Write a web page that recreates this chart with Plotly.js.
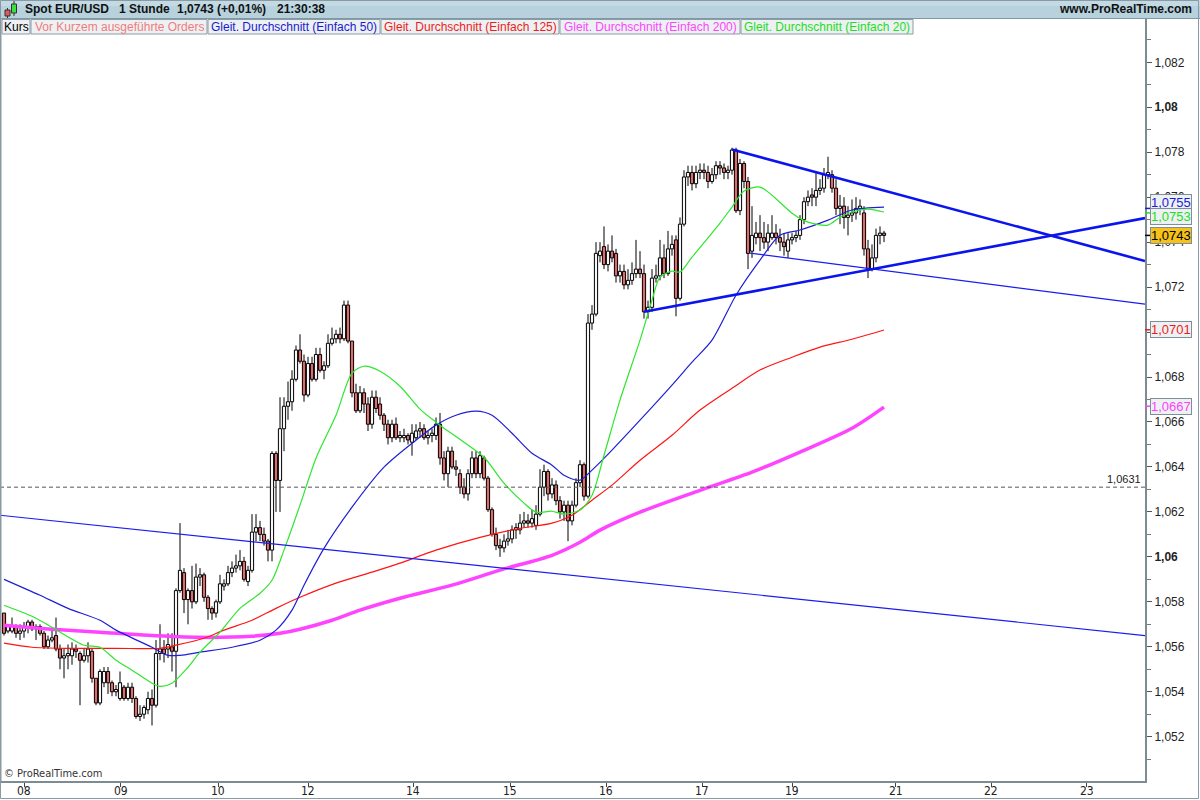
<!DOCTYPE html>
<html><head><meta charset="utf-8">
<script src="https://cdn.plot.ly/plotly-3.0.1.min.js"></script>
<style>html,body{margin:0;padding:0;background:#fff;}#chart{width:1200px;height:800px;}</style>
</head><body><div id="chart"></div>
<script>
// ---- Hourly candles (EUR/USD spot, 1 Stunde) ----
const open = [1.0575,1.0567,1.0567,1.0569,1.0566,1.0567,1.0569,1.0571,1.0568,1.0569,
1.0566,1.0560,1.0563,1.0565,1.0559,1.0555,1.0556,1.0556,1.0559,1.0557,
1.0554,1.0556,1.0558,1.0546,1.0535,1.0544,1.0549,1.0544,1.0540,1.0537,
1.0542,1.0537,1.0542,1.0537,1.0529,1.0530,1.0532,1.0537,1.0534,1.0557,
1.0559,1.0559,1.0560,1.0558,1.0585,1.0593,1.0581,1.0585,1.0580,1.0591,
1.0592,1.0582,1.0577,1.0575,1.0580,1.0587,1.0588,1.0593,1.0595,1.0596,
1.0598,1.0589,1.0594,1.0611,1.0613,1.0610,1.0607,1.0603,1.0646,1.0634,
1.0657,1.0667,1.0669,1.0679,1.0692,1.0687,1.0672,1.0686,1.0679,1.0690,
1.0683,1.0685,1.0695,1.0697,1.0699,1.0697,1.0712,1.0696,1.0673,1.0665,
1.0673,1.0668,1.0659,1.0671,1.0668,1.0663,1.0659,1.0653,1.0659,1.0653,
1.0653,1.0654,1.0651,1.0653,1.0656,1.0657,1.0653,1.0654,1.0654,1.0659,
1.0644,1.0637,1.0647,1.0640,1.0637,1.0631,1.0628,1.0637,1.0644,1.0637,
1.0644,1.0635,1.0621,1.0610,1.0605,1.0604,1.0607,1.0608,1.0612,1.0612,
1.0615,1.0616,1.0615,1.0614,1.0619,1.0631,1.0638,1.0628,1.0632,1.0625,
1.0620,1.0623,1.0616,1.0623,1.0633,1.0641,1.0627,1.0704,1.0708,1.0734,
1.0738,1.0730,1.0736,1.0735,1.0725,1.0727,1.0721,1.0723,1.0726,1.0728,
1.0726,1.0709,1.0711,1.0724,1.0725,1.0733,1.0726,1.0737,1.0741,1.0715,
1.0748,1.0769,1.0771,1.0766,1.0771,1.0772,1.0771,1.0767,1.0770,1.0774,
1.0773,1.0771,1.0772,1.0781,1.0754,1.0775,1.0767,1.0736,1.0742,1.0744,
1.0742,1.0740,1.0742,1.0744,1.0742,1.0740,1.0736,1.0741,1.0742,1.0743,
1.0750,1.0758,1.0761,1.0760,1.0763,1.0764,1.0770,1.0770,1.0764,1.0755,
1.0756,1.0751,1.0752,1.0753,1.0755,1.0753,1.0737,1.0728,1.0733,1.0743,
1.0744];
const high = [1.0575,1.0570,1.0573,1.0570,1.0570,1.0571,1.0572,1.0572,1.0570,1.0570,
1.0567,1.0565,1.0568,1.0573,1.0561,1.0559,1.0561,1.0562,1.0561,1.0558,
1.0559,1.0562,1.0559,1.0546,1.0550,1.0551,1.0551,1.0545,1.0543,1.0549,
1.0543,1.0544,1.0544,1.0538,1.0534,1.0534,1.0540,1.0541,1.0563,1.0570,
1.0563,1.0566,1.0566,1.0586,1.0615,1.0595,1.0586,1.0596,1.0597,1.0595,
1.0593,1.0583,1.0578,1.0581,1.0592,1.0590,1.0596,1.0598,1.0601,1.0603,
1.0600,1.0596,1.0619,1.0619,1.0616,1.0613,1.0608,1.0647,1.0647,1.0671,
1.0671,1.0678,1.0683,1.0694,1.0699,1.0690,1.0689,1.0689,1.0693,1.0693,
1.0687,1.0699,1.0702,1.0701,1.0702,1.0714,1.0714,1.0696,1.0677,1.0676,
1.0675,1.0671,1.0674,1.0674,1.0671,1.0664,1.0661,1.0661,1.0662,1.0656,
1.0657,1.0655,1.0659,1.0659,1.0660,1.0659,1.0656,1.0657,1.0662,1.0664,
1.0647,1.0649,1.0649,1.0643,1.0639,1.0635,1.0639,1.0647,1.0647,1.0647,
1.0645,1.0636,1.0622,1.0613,1.0608,1.0610,1.0612,1.0614,1.0615,1.0619,
1.0620,1.0619,1.0621,1.0623,1.0639,1.0641,1.0639,1.0635,1.0634,1.0627,
1.0625,1.0625,1.0625,1.0635,1.0643,1.0642,1.0708,1.0712,1.0740,1.0740,
1.0747,1.0739,1.0743,1.0737,1.0730,1.0730,1.0728,1.0731,1.0741,1.0736,
1.0730,1.0714,1.0728,1.0730,1.0741,1.0739,1.0745,1.0743,1.0743,1.0751,
1.0772,1.0774,1.0774,1.0774,1.0775,1.0775,1.0774,1.0773,1.0776,1.0776,
1.0775,1.0774,1.0782,1.0782,1.0777,1.0776,1.0769,1.0756,1.0749,1.0752,
1.0749,1.0748,1.0752,1.0748,1.0746,1.0744,1.0744,1.0744,1.0745,1.0752,
1.0760,1.0763,1.0764,1.0771,1.0768,1.0773,1.0778,1.0772,1.0768,1.0761,
1.0760,1.0756,1.0759,1.0760,1.0759,1.0756,1.0741,1.0739,1.0746,1.0747,
1.0745];
const low = [1.0565,1.0566,1.0566,1.0564,1.0563,1.0564,1.0566,1.0567,1.0563,1.0565,
1.0559,1.0559,1.0562,1.0558,1.0550,1.0546,1.0550,1.0552,1.0555,1.0534,
1.0553,1.0553,1.0544,1.0534,1.0534,1.0542,1.0539,1.0538,1.0538,1.0536,
1.0536,1.0536,1.0535,1.0528,1.0527,1.0528,1.0530,1.0525,1.0533,1.0554,
1.0553,1.0555,1.0549,1.0542,1.0584,1.0575,1.0570,1.0577,1.0579,1.0587,
1.0580,1.0572,1.0572,1.0573,1.0579,1.0585,1.0587,1.0591,1.0593,1.0594,
1.0589,1.0587,1.0593,1.0607,1.0607,1.0605,1.0598,1.0598,1.0620,1.0620,
1.0647,1.0661,1.0665,1.0678,1.0686,1.0669,1.0671,1.0678,1.0678,1.0682,
1.0679,1.0684,1.0694,1.0695,1.0695,1.0696,1.0695,1.0671,1.0664,1.0664,
1.0664,1.0656,1.0657,1.0664,1.0661,1.0656,1.0650,1.0651,1.0652,1.0651,
1.0651,1.0650,1.0645,1.0652,1.0653,1.0652,1.0650,1.0651,1.0652,1.0641,
1.0634,1.0631,1.0639,1.0636,1.0628,1.0626,1.0625,1.0635,1.0635,1.0635,
1.0634,1.0620,1.0609,1.0603,1.0600,1.0602,1.0605,1.0606,1.0608,1.0610,
1.0613,1.0613,1.0613,1.0612,1.0618,1.0627,1.0625,1.0626,1.0623,1.0617,
1.0616,1.0607,1.0614,1.0622,1.0631,1.0625,1.0626,1.0701,1.0707,1.0731,
1.0728,1.0727,1.0731,1.0722,1.0722,1.0719,1.0719,1.0721,1.0724,1.0724,
1.0706,1.0706,1.0709,1.0722,1.0723,1.0724,1.0725,1.0734,1.0707,1.0714,
1.0747,1.0765,1.0763,1.0764,1.0768,1.0768,1.0764,1.0766,1.0768,1.0770,
1.0768,1.0768,1.0770,1.0753,1.0752,1.0764,1.0728,1.0733,1.0739,1.0736,
1.0737,1.0736,1.0741,1.0739,1.0736,1.0734,1.0733,1.0739,1.0740,1.0741,
1.0748,1.0756,1.0756,1.0756,1.0761,1.0762,1.0768,1.0762,1.0752,1.0748,
1.0746,1.0743,1.0749,1.0750,1.0752,1.0734,1.0724,1.0727,1.0731,1.0739,
1.0740];
const close = [1.0566,1.0569,1.0569,1.0566,1.0567,1.0569,1.0571,1.0568,1.0569,1.0566,
1.0560,1.0563,1.0564,1.0559,1.0555,1.0556,1.0557,1.0559,1.0558,1.0554,
1.0556,1.0559,1.0546,1.0535,1.0549,1.0549,1.0544,1.0540,1.0541,1.0544,
1.0537,1.0542,1.0537,1.0529,1.0530,1.0533,1.0537,1.0534,1.0557,1.0559,
1.0557,1.0561,1.0558,1.0585,1.0594,1.0581,1.0585,1.0580,1.0591,1.0592,
1.0582,1.0577,1.0575,1.0580,1.0588,1.0588,1.0593,1.0595,1.0596,1.0598,
1.0590,1.0594,1.0611,1.0613,1.0610,1.0607,1.0603,1.0646,1.0634,1.0657,
1.0667,1.0669,1.0679,1.0692,1.0687,1.0672,1.0686,1.0679,1.0690,1.0683,
1.0685,1.0695,1.0697,1.0699,1.0697,1.0712,1.0696,1.0673,1.0665,1.0673,
1.0668,1.0659,1.0671,1.0666,1.0663,1.0659,1.0653,1.0659,1.0653,1.0654,
1.0654,1.0652,1.0655,1.0656,1.0657,1.0653,1.0654,1.0655,1.0659,1.0644,
1.0637,1.0647,1.0640,1.0639,1.0631,1.0628,1.0637,1.0644,1.0637,1.0645,
1.0635,1.0621,1.0610,1.0605,1.0604,1.0607,1.0608,1.0612,1.0613,1.0615,
1.0616,1.0615,1.0617,1.0619,1.0631,1.0638,1.0628,1.0632,1.0625,1.0620,
1.0623,1.0616,1.0623,1.0633,1.0641,1.0627,1.0704,1.0708,1.0735,1.0736,
1.0730,1.0736,1.0733,1.0725,1.0727,1.0721,1.0723,1.0726,1.0728,1.0726,
1.0709,1.0711,1.0724,1.0725,1.0733,1.0726,1.0737,1.0739,1.0715,1.0748,
1.0769,1.0771,1.0766,1.0771,1.0772,1.0771,1.0767,1.0770,1.0774,1.0773,
1.0771,1.0772,1.0781,1.0754,1.0775,1.0767,1.0735,1.0743,1.0744,1.0742,
1.0740,1.0744,1.0744,1.0742,1.0740,1.0738,1.0741,1.0742,1.0743,1.0750,
1.0758,1.0760,1.0760,1.0763,1.0764,1.0770,1.0771,1.0764,1.0755,1.0756,
1.0751,1.0752,1.0753,1.0755,1.0756,1.0737,1.0728,1.0733,1.0743,1.0744,
1.0743];

// ---- Moving averages (candle index, value) ----
const sma20X = [0,7,12,20,24,28,32,37,39,42,46,49,54,59,64,67,70,74,78,83,87,90,94,99,104,108,110,115,120,125,130,133,137,140,144,147,150,154,159,162,164,167,169,172,179,182,185,189,192,197,201,206,209,212,216,220];
const sma20Y = [1.05785,1.05736,1.05687,1.05607,1.05598,1.05540,1.05496,1.05438,1.05424,1.05438,1.05509,1.05576,1.05665,1.05771,1.05838,1.05896,1.06030,1.06230,1.06439,1.06630,1.06817,1.06848,1.06826,1.06759,1.06657,1.06599,1.06572,1.06510,1.06443,1.06328,1.06239,1.06199,1.06203,1.06190,1.06208,1.06274,1.06452,1.06697,1.06964,1.07142,1.07244,1.07271,1.07267,1.07333,1.07485,1.07556,1.07627,1.07645,1.07609,1.07529,1.07489,1.07476,1.07511,1.07534,1.07547,1.07534];
const sma50X = [0,9,16,24,28,37,41,44,49,57,64,68,72,75,80,87,95,103,108,113,118,122,127,132,137,140,144,147,152,159,167,172,177,183,189,194,199,206,212,220];
const sma50Y = [1.05900,1.05829,1.05771,1.05718,1.05674,1.05598,1.05562,1.05562,1.05576,1.05598,1.05629,1.05674,1.05763,1.05874,1.06038,1.06221,1.06399,1.06519,1.06586,1.06630,1.06648,1.06630,1.06550,1.06461,1.06408,1.06363,1.06341,1.06386,1.06475,1.06608,1.06764,1.06866,1.06964,1.07164,1.07320,1.07431,1.07454,1.07498,1.07543,1.07556];
const sma125X = [0,7,16,28,39,43,50,55,62,68,74,83,92,99,108,119,129,137,142,147,152,159,167,174,182,189,197,204,212,220];
const sma125Y = [1.05616,1.05598,1.05593,1.05593,1.05593,1.05607,1.05638,1.05674,1.05718,1.05771,1.05820,1.05883,1.05932,1.05972,1.06030,1.06087,1.06127,1.06150,1.06185,1.06252,1.06319,1.06430,1.06541,1.06653,1.06750,1.06831,1.06888,1.06933,1.06968,1.07009];
const sma200X = [0,12,24,36,49,62,69,74,82,89,99,112,124,137,144,149,159,174,187,199,212,220];
const sma200Y = [1.05696,1.05678,1.05665,1.05651,1.05642,1.05647,1.05660,1.05678,1.05718,1.05763,1.05816,1.05874,1.05941,1.06007,1.06065,1.06119,1.06199,1.06296,1.06377,1.06466,1.06572,1.06666];

// ---- Drawn trend lines (index, value) ----
const trendFallX = [182, 285.25], trendFallY = [1.07812, 1.07316];
const trendRiseX = [160, 285.25], trendRiseY = [1.07090, 1.07507];
const trendThinX = [186.5, 285.25], trendThinY = [1.07351, 1.07124];
const trendLongX = [-1, 285.25], trendLongY = [1.06185, 1.05650];
const refLevel = 1.0631;

// ---- Axis ticks ----
const dayTickPos = [5.1, 29.2, 53.5, 76.1, 102.3, 126.6, 150.5, 174.6, 197.0, 222.9, 246.8, 270.7];
const dayTickText = ['08','09','10','12','14','15','16','17','19','21','22','23'];
const priceTicks = [1.052,1.054,1.056,1.058,1.060,1.062,1.064,1.066,1.068,1.070,1.072,1.074,1.076,1.078,1.080,1.082];
// 1,07 sits fully under the 1,0701 value box in the original, so its text is not shown
const priceTickText = ['1,052','1,054','1,056','1,058','<b>1,06</b>','1,062','1,064','1,066','1,068','','1,072','1,074','1,076','1,078','<b>1,08</b>','1,082'];

// last values shown in boxes on the price axis
const lastLabels = [
  {text:'1,0755', val:1.0755, pos:1.07576, color:'#1a1ad8', bg:'#eef1f3'},
  {text:'1,0753', val:1.0753, pos:1.07513, color:'#22dd22', bg:'#eef1f3'},
  {text:'1,0743', val:1.0743, pos:1.0743, color:'#000000', bg:'#f6c21a'},
  {text:'1,0701', val:1.0701, pos:1.0701, color:'#ee1c1c', bg:'#eef1f3'},
  {text:'1,0667', val:1.0667, pos:1.0667, color:'#ff40ff', bg:'#eef1f3'}
];

const idx = close.map((_, i) => i);

// candle bodies and wicks built from the OHLC arrays
const bodyBase = idx.map(i => Math.min(open[i], close[i]));
const bodyLen = idx.map(i => Math.max(Math.abs(close[i] - open[i]), 0.00002));
const bodyColor = idx.map(i => close[i] < open[i] ? '#e06a6a' : '#f6f6f6');
const wickX = [], wickY = [];
idx.forEach(i => {
  const top = Math.max(open[i], close[i]), bot = Math.min(open[i], close[i]);
  wickX.push(i, i, null, i, i, null);
  wickY.push(high[i], top, null, bot, low[i], null);
});

const FONT = 'Liberation Sans, Arial, sans-serif';
const NARROW = 'Liberation Sans Narrow, DejaVu Sans Condensed, Arial Narrow, sans-serif';

// pixel helpers for decoration placement (plot area 0..1145 x 19..781)
const PW = 1145, PH = 762, PT = 19;
const px = x => x / PW;
const py = y => (PT + PH - y) / PH;

const maLine = (c, w) => ({color:c, width:w, shape:'spline', smoothing:0.8});

const traces = [
  {type:'bar', x:idx, y:bodyLen, base:bodyBase, width:0.8,
   marker:{color:bodyColor, line:{color:'#000000', width:1}}, hoverinfo:'skip'},
  {type:'scatter', mode:'lines', x:wickX, y:wickY, line:{color:'#000000', width:1}, connectgaps:false, hoverinfo:'skip'},
  {type:'scatter', mode:'lines', x:sma200X, y:sma200Y, line:maLine('#ff44ff', 3.5), hoverinfo:'skip'},
  {type:'scatter', mode:'lines', x:sma125X, y:sma125Y, line:maLine('#ff1414', 1.2), hoverinfo:'skip'},
  {type:'scatter', mode:'lines', x:sma50X, y:sma50Y, line:maLine('#1e1ed6', 1.2), hoverinfo:'skip'},
  {type:'scatter', mode:'lines', x:sma20X, y:sma20Y, line:maLine('#2ee62e', 1.2), hoverinfo:'skip'},
  {type:'scatter', mode:'lines', x:trendLongX, y:trendLongY, line:{color:'#1c1cf0', width:1.2}, hoverinfo:'skip'},
  {type:'scatter', mode:'lines', x:trendThinX, y:trendThinY, line:{color:'#1c1cf0', width:1.2}, hoverinfo:'skip'},
  {type:'scatter', mode:'lines', x:trendFallX, y:trendFallY, line:{color:'#0a14ee', width:2.6}, hoverinfo:'skip'},
  {type:'scatter', mode:'lines', x:trendRiseX, y:trendRiseY, line:{color:'#0a14ee', width:2.6}, hoverinfo:'skip'}
];

const shapes = [];
const annotations = [];

// header bar
shapes.push({type:'rect', xref:'paper', yref:'paper', x0:px(0), x1:px(1200), y0:py(18.5), y1:py(0), fillcolor:'#b7d1dd', line:{width:0}, layer:'above'});
shapes.push({type:'rect', xref:'paper', yref:'paper', x0:px(0), x1:px(1200), y0:py(6), y1:py(0), fillcolor:'#c3d9e3', line:{width:0}, layer:'above'});
shapes.push({type:'line', xref:'paper', yref:'paper', x0:px(0), x1:px(1200), y0:py(18.5), y1:py(18.5), line:{color:'#7f98a4', width:1}, layer:'above'});
// small candle icon
shapes.push({type:'line', xref:'paper', yref:'paper', x0:px(7.5), x1:px(7.5), y0:py(18), y1:py(8), line:{color:'#333', width:1}, layer:'above'});
shapes.push({type:'rect', xref:'paper', yref:'paper', x0:px(5), x1:px(10), y0:py(16), y1:py(10), fillcolor:'#e05a5a', line:{color:'#333', width:1}, layer:'above'});
shapes.push({type:'line', xref:'paper', yref:'paper', x0:px(14), x1:px(14), y0:py(16), y1:py(1), line:{color:'#333', width:1}, layer:'above'});
shapes.push({type:'rect', xref:'paper', yref:'paper', x0:px(11.5), x1:px(16.5), y0:py(13), y1:py(4), fillcolor:'#3ce03c', line:{color:'#333', width:1}, layer:'above'});

// legend row boxes
const legendBoxes = [
  {x0:2, x1:30, text:'Kurs', color:'#000000'},
  {x0:31, x1:207, text:'Vor Kurzem ausgeführte Orders', color:'#f07c7c'},
  {x0:208, x1:380, text:'Gleit. Durchschnitt (Einfach 50)', color:'#1a1ad0'},
  {x0:381, x1:559, text:'Gleit. Durchschnitt (Einfach 125)', color:'#ee1c1c'},
  {x0:560, x1:740, text:'Gleit. Durchschnitt (Einfach 200)', color:'#ff44ff'},
  {x0:741, x1:913, text:'Gleit. Durchschnitt (Einfach 20)', color:'#22dd22'}
];
legendBoxes.forEach(b => {
  shapes.push({type:'rect', xref:'paper', yref:'paper', x0:px(b.x0), x1:px(b.x1), y0:py(34), y1:py(19.5), fillcolor:'#edf1f3', line:{color:'#8c9ca4', width:1}, layer:'above'});
  annotations.push({xref:'paper', yref:'paper', x:px((b.x0+b.x1)/2), y:py(27), text:b.text, showarrow:false, xanchor:'center', yanchor:'middle', font:{family:FONT, size:12, color:b.color}});
});

// header texts
const headerParts = [
  {x:23, text:'<b>Spot EUR/USD</b>'},
  {x:117, text:'<b>1 Stunde</b>'},
  {x:175, text:'<b>1,0743 (+0,01%)</b>'},
  {x:275, text:'<b>21:30:38</b>'}
];
headerParts.forEach(h => annotations.push({xref:'paper', yref:'paper', x:px(h.x), y:py(9.5), text:h.text, showarrow:false, xanchor:'left', yanchor:'middle', font:{family:FONT, size:12, color:'#111'}}));
annotations.push({xref:'paper', yref:'paper', x:px(1194), y:py(9.5), text:'<b>www.ProRealTime.com</b>', showarrow:false, xanchor:'right', yanchor:'middle', font:{family:FONT, size:12, color:'#111'}});

// copyright
annotations.push({xref:'paper', yref:'paper', x:px(2), y:py(773), text:'© ProRealTime.com', showarrow:false, xanchor:'left', yanchor:'middle', font:{family:NARROW, size:11, color:'#333'}});

// day labels under the time axis
dayTickPos.forEach((p, k) => annotations.push({xref:'x', yref:'paper', x:p, y:py(790.5), text:dayTickText[k], showarrow:false, xanchor:'center', yanchor:'middle', font:{family:NARROW, size:12, color:'#222'}}));

// reference dashed level
shapes.push({type:'line', xref:'paper', yref:'y', x0:0, x1:1, y0:refLevel, y1:refLevel, line:{color:'#555', width:1, dash:'4px,3px'}});
annotations.push({xref:'paper', yref:'y', x:1, y:refLevel, xanchor:'right', yanchor:'bottom', xshift:-2, yshift:0, text:'1,0631', showarrow:false, font:{family:FONT, size:11, color:'#222'}});

// last value boxes
lastLabels.forEach(l => {
  shapes.push({type:'line', xref:'paper', yref:'y', x0:1, x1:1+5/PW, y0:l.val, y1:l.val, line:{color:l.color, width:1.5}, layer:'above'});
  annotations.push({xref:'paper', yref:'y', x:1, y:l.pos, xanchor:'left', yanchor:'middle', xshift:5, text:l.text, showarrow:false,
    bgcolor:l.bg, bordercolor:'#7f8f97', borderwidth:1, borderpad:0, font:{family:FONT, size:13, color:l.color}});
});

// outer frame
shapes.push({type:'rect', xref:'paper', yref:'paper', x0:px(0.5), x1:px(1198.5), y0:py(798.5), y1:py(0.5), line:{color:'#8a9aa2', width:1}, fillcolor:'rgba(0,0,0,0)', layer:'above'});
shapes.push({type:'line', xref:'paper', yref:'paper', x0:px(1), x1:px(1), y0:py(781), y1:py(19), line:{color:'#8a9aa2', width:1}, layer:'above'});

const layout = {
  width:1200, height:800,
  margin:{l:0, r:55, t:19, b:19, pad:0},
  paper_bgcolor:'#ffffff', plot_bgcolor:'#ffffff',
  showlegend:false, bargap:0,
  xaxis:{range:[-1, 285.25], tickmode:'array', tickvals:dayTickPos, showticklabels:false,
    ticks:'outside', ticklen:4, tickcolor:'#444', showgrid:false, zeroline:false,
    showline:true, linecolor:'#7d8c93', linewidth:1.5, fixedrange:true},
  yaxis:{side:'right', range:[1.0500294, 1.0839262], tickmode:'array', tickvals:priceTicks, ticktext:priceTickText,
    ticks:'outside', ticklen:5, tickcolor:'#555', showgrid:false, zeroline:false,
    showline:true, linecolor:'#7d8c93', linewidth:2,
    minor:{tickmode:'linear', tick0:1.051, dtick:0.002, ticks:'outside', ticklen:4, tickcolor:'#777', showgrid:false},
    tickfont:{family:FONT, size:12, color:'#222'}, fixedrange:true},
  shapes:shapes,
  annotations:annotations
};

Plotly.newPlot('chart', traces, layout, {staticPlot:true, displayModeBar:false});
</script>
</body></html>
